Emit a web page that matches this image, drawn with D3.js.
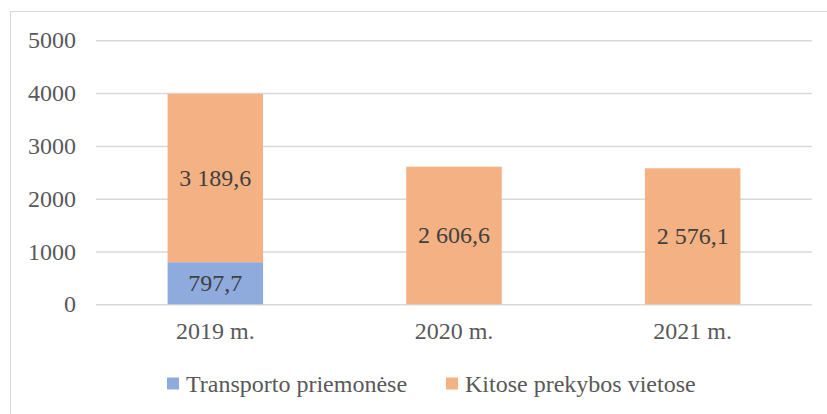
<!DOCTYPE html>
<html>
<head>
<meta charset="utf-8">
<script src="https://cdn.jsdelivr.net/npm/d3@7"></script>
<style>
  body { margin: 0; background: #fff; }
  text { font-family: "Liberation Serif", "Times New Roman", serif; }
</style>
</head>
<body>
<div id="chart"></div>
<script>
// Chart data
const years = ["2019 m.", "2020 m.", "2021 m."];
const seriesNames = ["Transporto priemonėse", "Kitose prekybos vietose"];
const transportas = [797.7, 0, 0];
const kitos = [3189.6, 2606.6, 2576.1];
const yTicks = [0, 1000, 2000, 3000, 4000, 5000];
const colors = ["#8FAADC", "#F4B183"];

const W = 827, H = 414;
const margin = { top: 40, right: 15, bottom: 110, left: 96 };
const fontSize = "24px";

const svg = d3.select("#chart").append("svg")
    .attr("width", W)
    .attr("height", H);

// outer chart border
svg.append("rect")
    .attr("x", 10.5).attr("y", 11.5)
    .attr("width", W).attr("height", H)
    .attr("fill", "none")
    .attr("stroke", "#d9d9d9");

const x = d3.scaleBand()
    .domain(years)
    .range([margin.left, W - margin.right]);

const y = d3.scaleLinear()
    .domain([0, 5000])
    .range([304.3, 40.3]);

// Gridlines + y labels
const yAxis = svg.append("g")
    .attr("transform", `translate(${margin.left},0)`)
    .call(d3.axisLeft(y).tickValues(yTicks).tickSize(-(W - margin.right - margin.left)).tickPadding(20).tickFormat(d3.format("d")));
yAxis.select(".domain").remove();
yAxis.selectAll(".tick line").attr("stroke", "#d9d9d9").attr("stroke-width", 1.5);
yAxis.selectAll(".tick text")
    .attr("fill", "#595959")
    .style("font-size", fontSize)
    .style("font-family", "'Liberation Serif', serif");

// stacked data
const rows = years.map((yr, i) => ({ year: yr, transportas: transportas[i], kitos: kitos[i] }));
const stack = d3.stack().keys(["transportas", "kitos"])(rows);

const barW = x.bandwidth() * 0.4;

const layers = svg.selectAll("g.layer")
    .data(stack)
    .join("g")
    .attr("class", "layer")
    .attr("fill", (d, i) => colors[i]);

layers.selectAll("rect")
    .data(d => d)
    .join("rect")
    .attr("x", d => x(d.data.year) + (x.bandwidth() - barW) / 2)
    .attr("y", d => y(d[1]))
    .attr("width", barW)
    .attr("height", d => y(d[0]) - y(d[1]));

// data labels
const fmt = v => {
    const s = d3.format(",.1f")(v);
    return s.replace(/,/g, " ").replace(".", ",");
};
layers.selectAll("text")
    .data(d => d.filter(p => p[1] - p[0] > 0))
    .join("text")
    .attr("x", d => x(d.data.year) + x.bandwidth() / 2)
    .attr("y", d => y((d[0] + d[1]) / 2))
    .attr("dy", "0.33em")
    .attr("text-anchor", "middle")
    .attr("fill", "#404040")
    .style("font-size", fontSize)
    .text(d => fmt(d[1] - d[0]));

// x axis labels
const xAxis = svg.append("g")
    .attr("transform", `translate(0,${y(0)})`)
    .call(d3.axisBottom(x).tickSize(0).tickPadding(18));
xAxis.select(".domain").remove();
xAxis.selectAll(".tick text")
    .attr("fill", "#595959")
    .style("font-size", fontSize)
    .style("font-family", "'Liberation Serif', serif");

// legend
const legendX = [167, 446];
const legend = svg.selectAll("g.legend")
    .data(seriesNames)
    .join("g")
    .attr("class", "legend")
    .attr("transform", (d, i) => `translate(${legendX[i]},377.5)`);
legend.append("rect")
    .attr("width", 12).attr("height", 12)
    .attr("fill", (d, i) => colors[i]);
legend.append("text")
    .attr("x", 19).attr("y", 6)
    .attr("dy", "0.35em")
    .attr("fill", "#595959")
    .style("font-size", fontSize)
    .text(d => d);
</script>
</body>
</html>
